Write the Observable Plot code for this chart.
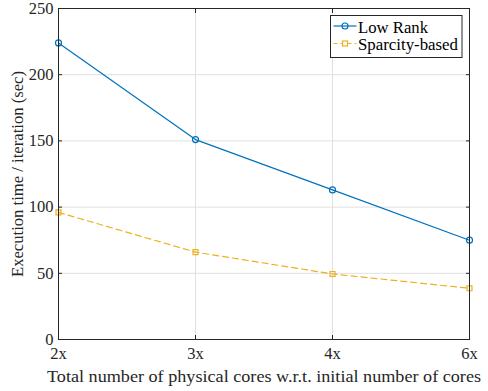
<!DOCTYPE html>
<html><head><meta charset="utf-8">
<script src="https://cdn.jsdelivr.net/npm/d3@7"></script>
<script src="https://cdn.jsdelivr.net/npm/@observablehq/plot@0.6"></script>
<style>
html,body{margin:0;padding:0;background:#fff;}
#wrap{position:relative;width:488px;height:391px;font-family:"Liberation Serif",serif;}
#chart svg, #chart svg text{font-family:"Liberation Serif",serif !important;}
#legend{position:absolute;left:0;top:0;pointer-events:none;}
#legend text{font-family:"Liberation Serif",serif;font-size:16.8px;fill:#000;}
</style></head><body>
<div id="wrap"><div id="chart"></div>
<svg id="legend" width="488" height="391">
  <rect x="330.5" y="15.5" width="131.5" height="42" fill="#fff" stroke="#262626" stroke-width="1"/>
  <line x1="333.5" x2="356.5" y1="26" y2="26" stroke="#0072BD" stroke-width="1.2"/>
  <circle cx="345" cy="26" r="3" fill="none" stroke="#0072BD" stroke-width="1.2"/>
  <text x="358" y="32.5" textLength="70" lengthAdjust="spacingAndGlyphs">Low Rank</text>
  <line x1="333.5" x2="356.5" y1="43.5" y2="43.5" stroke="#EDB120" stroke-width="1.2" stroke-dasharray="4,3"/>
  <rect x="342.5" y="41" width="5" height="5" fill="#fff" stroke="#EDB120" stroke-width="1.2"/>
  <text x="358" y="50" textLength="100" lengthAdjust="spacingAndGlyphs">Sparcity-based</text>
</svg>
</div>
<script>
const cores = ["2x", "3x", "4x", "6x"];
const lowRank = [224, 151, 113, 75];
const sparsity = [96, 66, 49.5, 38.7];
const yTicks = [0, 50, 100, 150, 200, 250];
const xLabel = "Total number of physical cores w.r.t. initial number of cores";
const yLabel = "Execution time / iteration (sec)";

const lr = cores.map((c, i) => ({c, v: lowRank[i]}));
const sp = cores.map((c, i) => ({c, v: sparsity[i]}));
const serif = '"Liberation Serif",serif';
const ink = "#262626";

const chart = Plot.plot({
  width: 488, height: 391,
  marginLeft: 58, marginRight: 19, marginTop: 8, marginBottom: 52,
  style: {fontFamily: serif, fontSize: "16.5px", color: ink, background: "#fff"},
  x: {type: "point", domain: cores, padding: 0, label: null},
  y: {domain: [0, 250], label: null},
  marks: [
    Plot.gridX(cores, {stroke: "#e0e0e0", strokeOpacity: 1}),
    Plot.gridY(yTicks, {stroke: "#e0e0e0", strokeOpacity: 1}),
    Plot.axisX(cores, {tickSize: 0, tickPadding: 8, fontSize: 16.5, fontFamily: serif, fill: ink, label: null}),
    Plot.axisY(yTicks, {tickSize: 0, tickPadding: 5, fontSize: 16.5, fontFamily: serif, fill: ink, label: null}),
    Plot.axisX(cores, {anchor: "bottom", tickSize: -4, fill: "none", stroke: ink, label: null}),
    Plot.axisX(cores, {anchor: "top", tickSize: -4, fill: "none", stroke: ink, label: null}),
    Plot.axisY(yTicks, {anchor: "left", tickSize: -4, fill: "none", stroke: ink, label: null}),
    Plot.axisY(yTicks, {anchor: "right", tickSize: -4, fill: "none", stroke: ink, label: null}),
    Plot.text([xLabel], {text: d => d, frameAnchor: "bottom", textAnchor: "middle", lineAnchor: "middle", dy: 37, fontSize: 17.5, fontFamily: serif, fill: ink}),
    Plot.text([yLabel], {text: d => d, frameAnchor: "left", textAnchor: "middle", lineAnchor: "middle", dx: -41, rotate: -90, fontSize: 16.7, fontFamily: serif, fill: ink}),
    Plot.line(sp, {x: "c", y: "v", stroke: "#EDB120", strokeWidth: 1.2, strokeDasharray: "6,4"}),
    Plot.dot(sp, {x: "c", y: "v", symbol: "square", r: 2.8, stroke: "#EDB120", strokeWidth: 1.2, fill: "none"}),
    Plot.line(lr, {x: "c", y: "v", stroke: "#0072BD", strokeWidth: 1.2}),
    Plot.dot(lr, {x: "c", y: "v", symbol: "circle", r: 3, stroke: "#0072BD", strokeWidth: 1.2, fill: "none"}),
    Plot.frame({stroke: ink, strokeWidth: 1})
  ]
});
d3.select(chart).selectAll("text").each(function() {
  const t = this.textContent;
  if (t === xLabel) d3.select(this).attr("textLength", 434).attr("lengthAdjust", "spacingAndGlyphs");
  if (t === yLabel) d3.select(this).attr("textLength", 206).attr("lengthAdjust", "spacingAndGlyphs");
});
document.getElementById("chart").appendChild(chart);
</script>
</body></html>
